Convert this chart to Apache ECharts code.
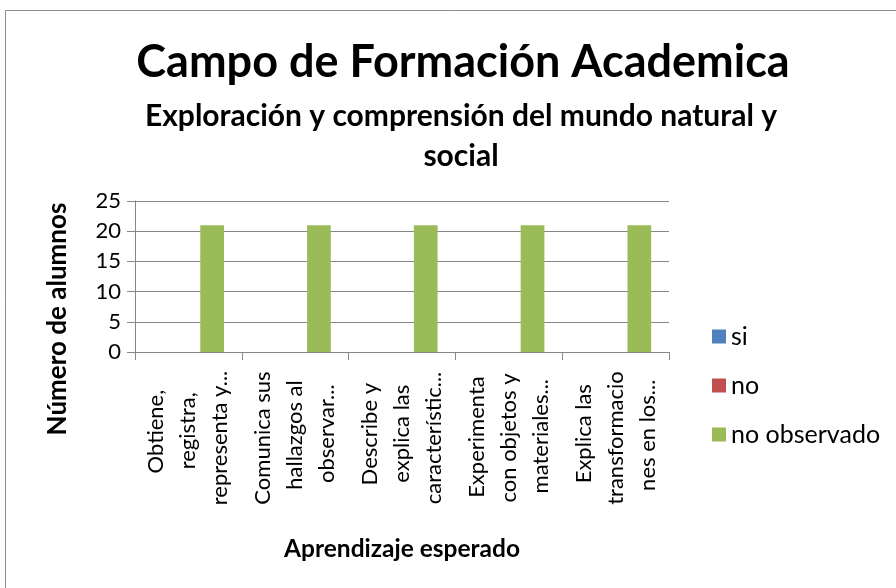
<!DOCTYPE html>
<html><head><meta charset="utf-8">
<script src="https://cdn.jsdelivr.net/npm/echarts@6/dist/echarts.min.js"></script>
<style>html,body{margin:0;padding:0;background:#fff}#c{width:896px;height:588px}</style>
</head><body><div id="c"></div>
<script>
const categories = [
  "Obtiene,\nregistra,\nrepresenta y...",
  "Comunica sus\nhallazgos al\nobservar...",
  "Describe y\nexplica las\ncaracterístic...",
  "Experimenta\ncon objetos y\nmateriales...",
  "Explica las\ntransformacio\nnes en los..."
];
const seriesNames = ["si", "no", "no observado"];
const siValues = [0, 0, 0, 0, 0];
const noValues = [0, 0, 0, 0, 0];
const noObservadoValues = [21, 21, 21, 21, 21];
const yTicks = [0, 5, 10, 15, 20, 25];
const colors = ["#4F81BD", "#C0504D", "#9BBB59"];
const FONT = "Lato";
const LABEL_SIZE = 22;

// centre each wrapped line of the rotated category labels (Excel style)
const mctx = document.createElement('canvas').getContext('2d');
mctx.font = LABEL_SIZE + 'px ' + FONT;
const rich = {};
categories.forEach(function (cat, i) {
  const lines = cat.split('\n');
  const widths = lines.map(s => mctx.measureText(s).width);
  const maxW = Math.max.apply(null, widths);
  lines.forEach(function (s, j) {
    rich['c' + i + '_' + j] = {fontSize: LABEL_SIZE, lineHeight: 32, fontFamily: FONT, color: '#000',
      padding: [0, 0, 0, (maxW - widths[j]) / 4]};
  });
});

const chart = echarts.init(document.getElementById('c'), null, {renderer: 'canvas'});
const axisGray = '#868686';
chart.setOption({
  animation: false,
  textStyle: {fontFamily: FONT},
  color: colors,
  title: [
    {text: 'Campo de Formación Academica', left: 458, top: 35, textAlign: 'center',
     textStyle: {fontFamily: FONT, fontSize: 45, fontWeight: 'bold', color: '#000'}},
    {text: 'Exploración y comprensión del mundo natural y\nsocial', left: 456, top: 91, textAlign: 'center',
     textStyle: {fontFamily: FONT, fontSize: 30, fontWeight: 'bold', color: '#000', lineHeight: 40}}
  ],
  legend: {
    orient: 'vertical', left: 707, top: 319,
    itemWidth: 14, itemHeight: 14, itemGap: 24,
    icon: 'rect',
    data: seriesNames,
    textStyle: {fontFamily: FONT, fontSize: 25, color: '#000', lineHeight: 25}
  },
  grid: {left: 135, right: 227, top: 201, bottom: 236},
  xAxis: {
    type: 'category', data: categories, boundaryGap: true,
    name: 'Aprendizaje esperado', nameLocation: 'middle', nameGap: 185,
    nameTextStyle: {fontFamily: FONT, fontSize: 24.5, fontWeight: 'bold', color: '#000'},
    axisLine: {lineStyle: {color: axisGray, width: 1}},
    axisTick: {show: true, length: 8, alignWithLabel: false, lineStyle: {color: axisGray}},
    axisLabel: {rotate: 90, interval: 0, fontSize: LABEL_SIZE, color: '#000', fontFamily: FONT,
      align: 'center', verticalAlign: 'middle', margin: 86, lineHeight: 32,
      formatter: function (v) {
        const i = categories.indexOf(v);
        return v.split('\n').map((s, j) => '{c' + i + '_' + j + '|' + s + '}').join('\n');
      },
      rich: rich
    }
  },
  yAxis: {
    type: 'value', min: yTicks[0], max: yTicks[yTicks.length - 1], interval: 5,
    axisLine: {show: true, lineStyle: {color: axisGray, width: 1}},
    axisTick: {show: true, length: 8, lineStyle: {color: axisGray}},
    splitLine: {show: true, lineStyle: {color: axisGray, width: 1}},
    axisLabel: {fontSize: 22, color: '#000', fontFamily: FONT, margin: 14}
  },
  graphic: [
    {type: 'rect', shape: {x: 5.5, y: 10.5, width: 1000, height: 1000}, silent: true,
     style: {fill: 'none', stroke: '#8c8c8c', lineWidth: 1}},
    {type: 'text', x: 58, y: 319, rotation: Math.PI / 2,
     style: {text: 'Número de alumnos', fontFamily: FONT, fontSize: 26, fontWeight: 'bold', fill: '#000',
       align: 'center', verticalAlign: 'middle'}}
  ],
  series: [
    {name: seriesNames[0], type: 'bar', data: siValues, barGap: '0%', barCategoryGap: '33.33%'},
    {name: seriesNames[1], type: 'bar', data: noValues, barGap: '0%', barCategoryGap: '33.33%'},
    {name: seriesNames[2], type: 'bar', data: noObservadoValues, barGap: '0%', barCategoryGap: '33.33%'}
  ]
});
</script></body></html>
